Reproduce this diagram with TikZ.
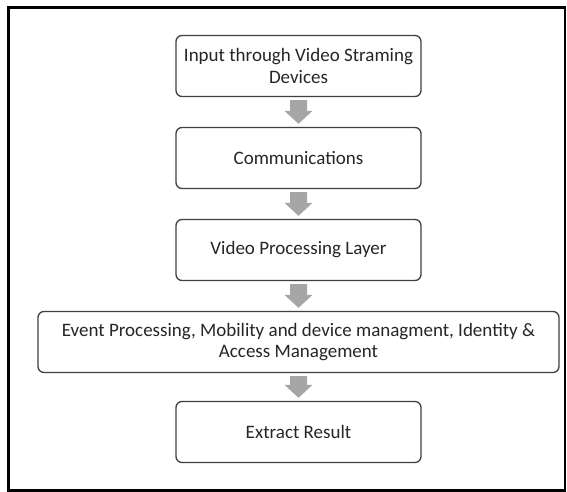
\documentclass[tikz,border=0pt]{standalone}
\usepackage{fontspec}
\setmainfont{Carlito}
\usetikzlibrary{calc}
\definecolor{boxline}{HTML}{404040}
\definecolor{textgray}{HTML}{262626}
\definecolor{arrowgray}{HTML}{A6A6A6}
\tikzset{
  flowbox/.style={draw=boxline, line width=1.3pt, rounded corners=6pt, fill=white,
    minimum width=245pt, minimum height=61pt, align=center, inner sep=2pt,
    text=textgray, font=\fontsize{19}{21.5}\selectfont},
  framebox/.style={draw=black, line width=2.6pt},
  arrowfill/.style={fill=arrowgray, draw=none}
}
\newcommand\grayarrow[2]{%
  \fill[arrowfill] let \p1=(#1.south), \p2=(#2.north) in
    (\x1-8.5pt,\y1-3pt) -- (\x1+8.5pt,\y1-3pt) -- (\x1+8.5pt,\y2+16pt) --
    (\x1+14pt,\y2+16pt) -- (\x1,\y2+3pt) -- (\x1-14pt,\y2+16pt) --
    (\x1-8.5pt,\y2+16pt) -- cycle;}
\begin{document}
\begin{tikzpicture}[x=1pt,y=-1pt]
\useasboundingbox (0,0) rectangle (567,492);
\fill[white] (0,0) rectangle (567,492);
\draw[framebox] (8.3,7.3) rectangle (565,490.7);
\node[flowbox] (b1) at (298.5,66) {Input through Video Straming\\Devices};
\node[flowbox] (b2) at (298.5,158) {Communications};
\node[flowbox] (b3) at (298.5,250) {Video Processing Layer};
\node[flowbox, minimum width=521pt] (b4) at (298.5,342) {Event Processing, Mobility and device managment, Identity \&\\Access Management};
\node[flowbox] (b5) at (298.5,432) {Extract Result};
\grayarrow{b1}{b2}
\grayarrow{b2}{b3}
\grayarrow{b3}{b4}
\grayarrow{b4}{b5}
\end{tikzpicture}
\end{document}
